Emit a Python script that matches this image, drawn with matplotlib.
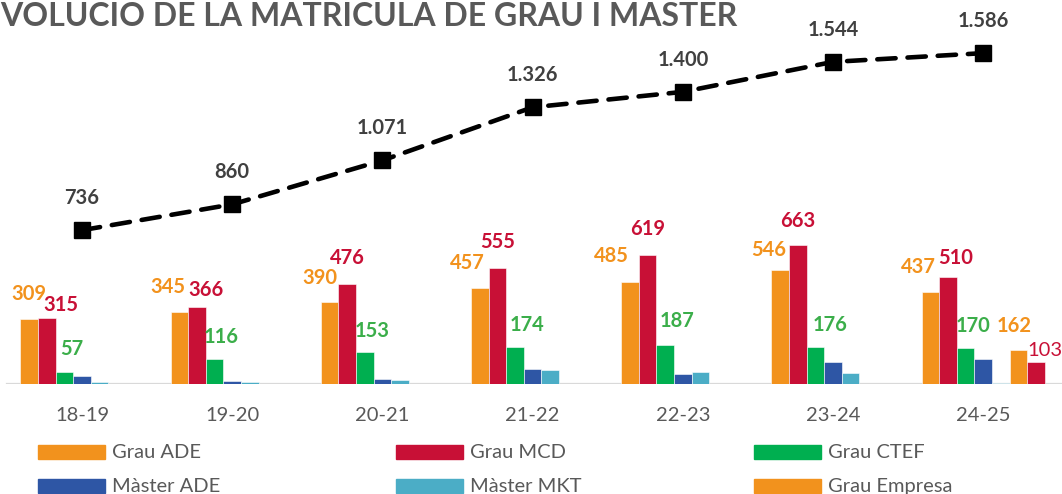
import matplotlib
matplotlib.use("Agg")
import matplotlib.pyplot as plt
from matplotlib.patches import Rectangle

plt.rcParams['font.family'] = ['Lato', 'DejaVu Sans']

years = ["18-19", "19-20", "20-21", "21-22", "22-23", "23-24", "24-25"]
grau_ade = [309, 345, 390, 457, 485, 546, 437]
grau_mcd = [315, 366, 476, 555, 619, 663, 510]
grau_ctef = [57, 116, 153, 174, 187, 176, 170]
master_ade = [38, 12, 24, 68, 47, 101, 117]
master_mkt = [7, 8, 19, 63, 53, 50, 4]
grau_empresa = [0, 0, 0, 0, 0, 0, 162]
grau_mcd_empresa = [0, 0, 0, 0, 0, 0, 103]
total = [736, 860, 1071, 1326, 1400, 1544, 1586]

names = ["Grau ADE", "Grau MCD", "Grau CTEF", "Màster ADE", "Màster MKT", "Grau Empresa", "Grau MCD Empresa"]
colors = ["#F2921D", "#C81036", "#00AF50", "#2E56A5", "#4BADC6", "#F2921D", "#C81036"]
label_colors = ["#F2921D", "#C81036", "#3BAE4A", None, None, "#F2921D", "#C81036"]
series = [grau_ade, grau_mcd, grau_ctef, master_ade, master_mkt, grau_empresa, grau_mcd_empresa]

# label offsets in pixels (dx, dy above bar top), as placed in the original
lab_dx = [[0, -12, -10, -12, -19, -12, -12],
          [14, 9, 0, 0, 0, 0, 8],
          [7, 7, 7, 12, 12, 15, 7],
          None, None,
          [0, 0, 0, 0, 0, 0, -4],
          [0, 0, 0, 0, 0, 0, 9]]
lab_dy = [[25, 25, 24, 25, 26, 20, 25],
          [13, 17, 26, 26, 26, 24, 19],
          [23, 22, 21, 22, 24, 22, 22],
          None, None,
          [0, 0, 0, 0, 0, 0, 24],
          [0, 0, 0, 0, 0, 0, 12]]

W, H = 1062, 494
fig = plt.figure(figsize=(W / 100, H / 100), dpi=100)
base = 383.5
ax = fig.add_axes([0, (H - base) / H, 1, base / H])
ax.set_xlim(-82 / 150.2, (W - 82) / 150.2)
ax.set_ylim(0, base / 0.2083)
ax.axis('off')
ax.axhline(0, xmin=7 / W, xmax=1, color="#D9D9D9", lw=1.6, zorder=1)

px = 0.72  # points per pixel
bw = 17.6 / 150.2
x = list(range(len(years)))
for i, (vals, c) in enumerate(zip(series, colors)):
    xs = [xi + (i - 3) * bw for xi in x]
    ax.bar(xs, vals, width=bw, color=c, edgecolor="white", linewidth=0.4, zorder=2)
    if label_colors[i] is None:
        continue
    for j, v in enumerate(vals):
        if v == 0:
            continue
        ax.annotate(str(v), (xs[j], v), xytext=(lab_dx[i][j] * px, lab_dy[i][j] * px),
                    textcoords="offset points", ha="center", va="center",
                    fontsize=14.5, fontweight="normal" if i == 6 else "bold",
                    color=label_colors[i])

ax.plot(x, total, color="black", lw=3.3, ls=(0, (4, 2.6)), dash_capstyle="round",
        marker="s", markersize=11, zorder=4)
for xi, v in zip(x, total):
    ax.annotate(f"{v:,}".replace(",", "."), (xi, v), xytext=(0, 32 * px),
                textcoords="offset points", ha="center", va="center",
                fontsize=14.5, fontweight="bold", color="#404040")

for xi, yr in zip(x, years):
    ax.annotate(yr, (xi, 0), xytext=(0, -32 * px), textcoords="offset points",
                ha="center", va="center", fontsize=14.5, color="#595959")

fig.text(0.0, 1 - 26 / H, "VOLUCIO DE LA MATRICULA DE GRAU I MASTER", ha="left",
         va="baseline", fontsize=23, fontweight="bold", color="#595959")

# legend (third row falls below the visible area)
for k in range(6):
    col, row = k % 3, k // 3
    x0 = 38 + col * 358
    yc = 452 + row * 34
    fig.patches.append(Rectangle((x0 / W, 1 - (yc + 7) / H), 67 / W, 14 / H,
                                 transform=fig.transFigure, color=colors[k]))
    fig.text((x0 + 74) / W, 1 - yc / H, names[k], ha="left", va="center",
             fontsize=14.5, color="#595959")

fig.savefig("out.png", dpi=100)
